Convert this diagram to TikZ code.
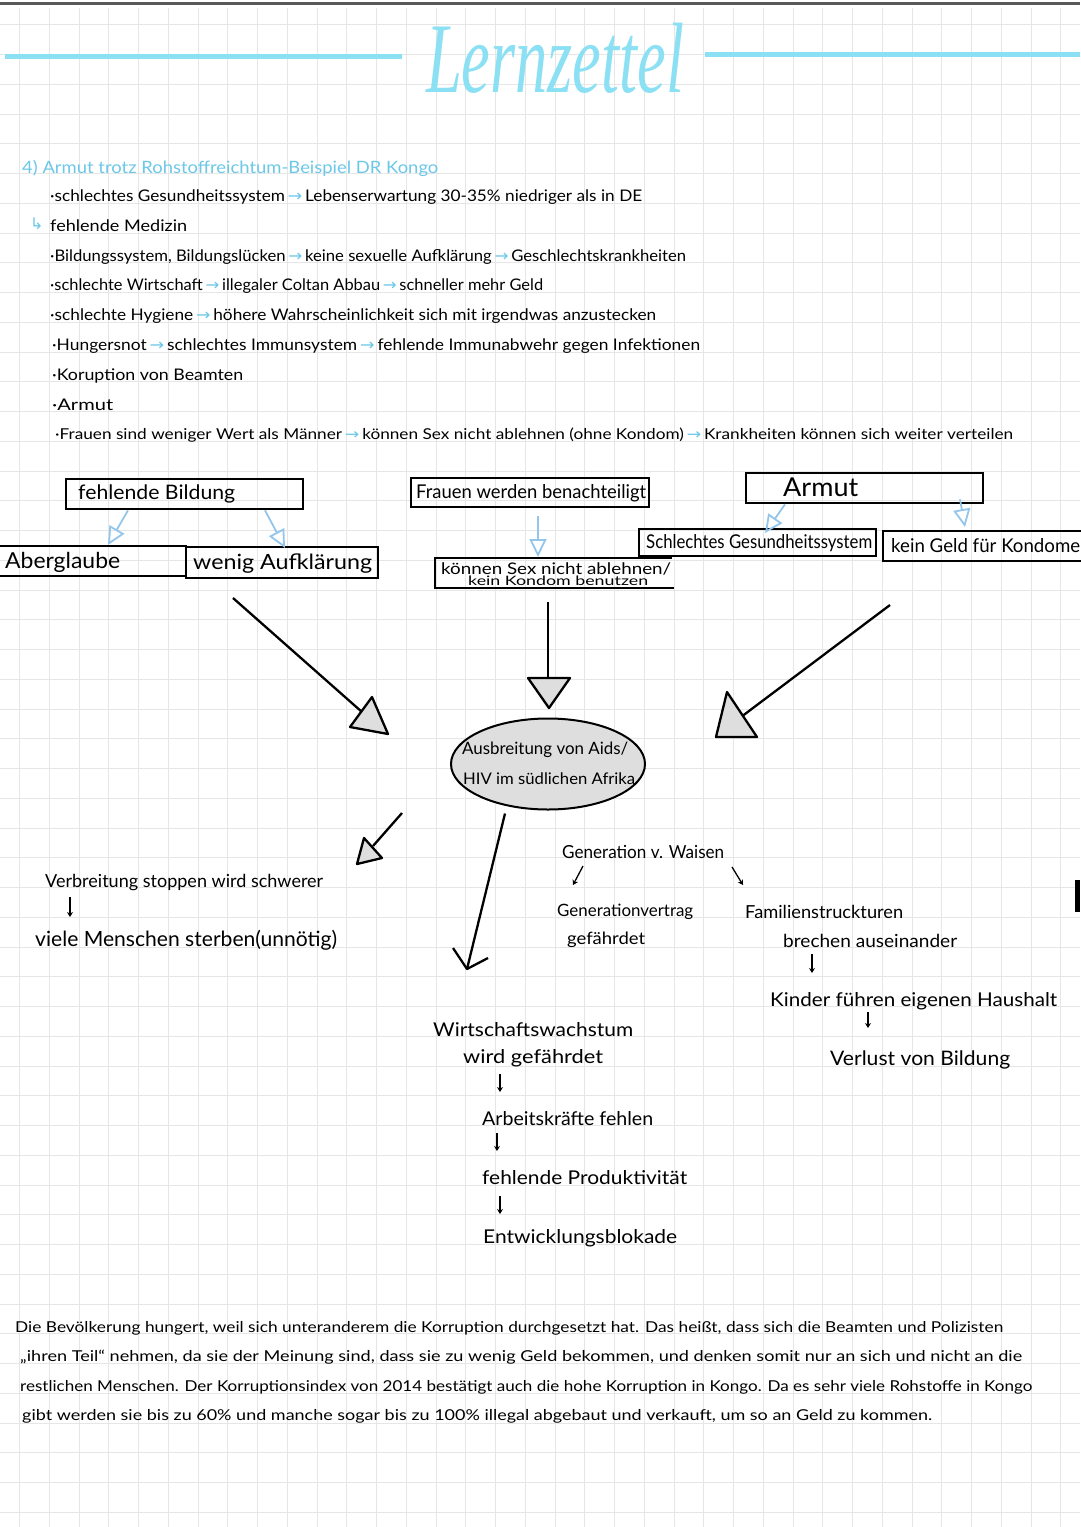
\documentclass[tikz,border=0pt]{standalone}
\usepackage{fontspec}
\usepackage{graphicx}
\setmainfont{Lato}
\newfontfamily\symf{DejaVu Sans}
\newfontfamily\titlef{Liberation Serif}
\usetikzlibrary{arrows.meta,calc,shapes.geometric}
\definecolor{cyanT}{HTML}{8BE0F4}
\definecolor{cyanH}{HTML}{6CC8E8}
\definecolor{blueA}{HTML}{93C6EA}
\definecolor{gridc}{HTML}{E6E6E6}
\definecolor{triF}{HTML}{DEDEDE}
\newcommand\fw[2]{\resizebox{#1pt}{\height}{#2}}
\newcommand\carr{{\symf\color{cyanH}\,→\,}}
\tikzset{
  txt/.style={inner sep=0pt, anchor=west},
  fs/.style={font=\fontsize{#1}{#1}\selectfont},
  boxst/.style={draw, line width=2.3pt, inner sep=0pt, anchor=north west},
  barrow/.style={blueA, line width=1.8pt, -{Triangle[open, length=18pt, width=17pt]}},
  bk/.style={black, line width=2.3pt},
  tri/.style={black, line width=2.3pt, fill=triF, line join=round},
  sarr/.style={black, line width=1.3pt, -{Stealth[length=5pt, width=6pt]}}
}
\begin{document}
\begin{tikzpicture}[x=1pt, y=-1pt]
\useasboundingbox (0,0) rectangle (1080,1527);
\fill[white] (0,0) rectangle (1080,1527);
% grid
\foreach \i in {0,...,36}{\pgfmathsetmacro\gx{19.6+29.75*\i}\draw[gridc, line width=1pt] (\gx,8) -- (\gx,1527);}
\foreach \i in {1,...,51}{\pgfmathsetmacro\gy{-5+29.75*\i}\draw[gridc, line width=1pt] (0,\gy) -- (1080,\gy);}
\draw[black!65, line width=3pt] (0,3) -- (1080,3);
\fill[black] (1075,880) rectangle (1080,912);
% title
\node[inner sep=0pt, text=cyanT, font=\titlef\itshape\fontsize{100}{100}\selectfont] (title) at (555,58) {\fw{258}{Lernzettel}};
\coordinate (tl1) at (5,56); \coordinate (tl2) at (402,56);
\coordinate (tr1) at (705,54); \coordinate (tr2) at (1080,54);
\draw[cyanT, line width=5pt] (tl1) -- (tl2);
\draw[cyanT, line width=5pt] (tr1) -- (tr2);
% heading and bullets
\node[txt, fs=17, text=cyanH] (head) at (22,168) {\fw{416}{4) Armut trotz Rohstoffreichtum-Beispiel DR Kongo}};
\node[txt, fs=16] (b1) at (50,197) {\fw{592}{·schlechtes Gesundheitssystem\carr Lebenserwartung 30-35\% niedriger als in DE}};
\node[txt, fs=16, text=cyanH] (hook) at (30,224) {\symf ↳};
\node[txt, fs=16] (b2) at (50,226) {\fw{137}{fehlende Medizin}};
\node[txt, fs=16] (b3) at (50,257) {\fw{636}{·Bildungssystem, Bildungslücken\carr keine sexuelle Aufklärung\carr Geschlechtskrankheiten}};
\node[txt, fs=16] (b4) at (50,286) {\fw{493}{·schlechte Wirtschaft\carr illegaler Coltan Abbau\carr schneller mehr Geld}};
\node[txt, fs=16] (b5) at (50,316) {\fw{606}{·schlechte Hygiene\carr höhere Wahrscheinlichkeit sich mit irgendwas anzustecken}};
\node[txt, fs=16] (b6) at (52,346) {\fw{648}{·Hungersnot\carr schlechtes Immunsystem\carr fehlende Immunabwehr gegen Infektionen}};
\node[txt, fs=16] (b7) at (52,376) {\fw{191}{·Koruption von Beamten}};
\node[txt, fs=16] (b8) at (52,405) {\fw{61}{·Armut}};
\node[txt, fs=15] (b9) at (55,435) {\fw{958}{·Frauen sind weniger Wert als Männer\carr können Sex nicht ablehnen (ohne Kondom)\carr Krankheiten können sich weiter verteilen}};
% boxes
\node[boxst, minimum width=237pt, minimum height=30pt] (fbox) at (65,478) {};
\node[txt, fs=20] (fbt) at (78,494) {\fw{157}{fehlende Bildung}};
\node[boxst, minimum width=190pt, minimum height=30pt] (aber) at (-5,545) {};
\node[txt, fs=22] (abt) at (5,562) {\fw{115}{Aberglaube}};
\node[boxst, minimum width=192pt, minimum height=31pt] (wenig) at (185,546) {};
\node[txt, fs=21] (wet) at (193,564) {\fw{179}{wenig Aufklärung}};
\node[boxst, minimum width=238pt, minimum height=29pt] (frbox) at (410,477) {};
\node[txt, fs=19] (frt) at (416,493) {\fw{230}{Frauen werden benachteiligt}};
\coordinate (k1) at (672,558); \coordinate (k2) at (435,558); \coordinate (k3) at (435,588); \coordinate (k4) at (674,588);
\draw[bk] (k1) -- (k2) -- (k3) -- (k4);
\node[txt, fs=16] (kt1) at (441,569) {\fw{230}{können Sex nicht ablehnen/}};
\node[txt, fs=13] (kt2) at (468,581) {\fw{180}{kein Kondom benutzen}};
\node[boxst, minimum width=237pt, minimum height=30pt] (armbox) at (745,472) {};
\node[txt, fs=26] (armt) at (783,487) {\fw{75}{Armut}};
\node[boxst, minimum width=237pt, minimum height=27pt] (sgbox) at (638,528) {};
\node[txt, fs=19] (sgt) at (646,543) {\fw{226}{Schlechtes Gesundheitssystem}};
\node[boxst, minimum width=210pt, minimum height=30pt] (kgbox) at (882,530) {};
\node[txt, fs=19] (kgt) at (891,546) {\fw{189}{kein Geld für Kondome}};
% blue arrows
\draw[barrow] ([xshift=63pt]fbox.south west) -- ([xshift=113pt]aber.north west);
\draw[barrow] ([xshift=200pt]fbox.south west) -- ([xshift=100pt,yshift=-2pt]wenig.north west);
\draw[barrow] ([xshift=128pt,yshift=-8pt]frbox.south west) -- (538,557);
\draw[barrow] ([xshift=40pt]armbox.south west) -- ([xshift=127pt,yshift=-5pt]sgbox.north west);
\draw[barrow] ([xshift=215pt,yshift=5pt]armbox.south west) -- ([xshift=83pt,yshift=3pt]kgbox.north west);
% ellipse
\node[ellipse, draw, line width=2pt, fill=triF, minimum width=194pt, minimum height=91pt] (ell) at (548,764) {};
\node[txt, fs=17] (e1) at (462,750) {\fw{166}{Ausbreitung von Aids/}};
\node[txt, fs=16] (e2) at (463,779) {\fw{172}{HIV im südlichen Afrika}};
% big arrows in
\coordinate (s1) at (233,598); \coordinate (m1) at (362,712);
\draw[bk] (s1) -- (m1);
\filldraw[tri] (372,697) -- (350,727) -- (388,734) -- cycle;
\coordinate (s2) at (548,602); \coordinate (m2) at (548,678);
\draw[bk] (s2) -- (m2);
\filldraw[tri] (528,678) -- (570,678) -- (549,708) -- cycle;
\coordinate (s3) at (890,605); \coordinate (m3) at (741,717);
\draw[bk] (s3) -- (m3);
\filldraw[tri] (727,692) -- (716,737) -- (757,737) -- cycle;
% arrows out
\coordinate (o1) at (402,813); \coordinate (m4) at (373,846);
\draw[bk] (o1) -- (m4);
\filldraw[tri] (364,838) -- (357,864) -- (382,858) -- cycle;
\coordinate (vt) at (467,969); \coordinate (v1) at (453,948); \coordinate (v2) at (488,958);
\draw[bk] (ell.south) ++(-43pt,-3pt) -- (vt);
\draw[bk, line join=round] (v1) -- (vt) -- (v2);
% left branch
\node[txt, fs=18] (vs) at (45,882) {\fw{278}{Verbreitung stoppen wird schwerer}};
\node[txt, fs=21] (vm) at (35,940) {\fw{302}{viele Menschen sterben(unnötig)}};
\coordinate (a1s) at (70,897); \coordinate (a1e) at (70,917);
\draw[sarr] (a1s) -- (a1e);
% orphans branch
\node[txt, fs=18] (gw) at (562,852) {\fw{162}{Generation v. Waisen}};
\coordinate (a2s) at (583,866); \coordinate (a2e) at (573,885);
\draw[sarr] (a2s) -- (a2e);
\coordinate (a3s) at (732,867); \coordinate (a3e) at (743,885);
\draw[sarr] (a3s) -- (a3e);
\node[txt, fs=17] (gv) at (557,912) {\fw{136}{Generationvertrag}};
\node[txt, fs=17] (gg) at (567,940) {\fw{78}{gefährdet}};
\node[txt, fs=18] (fst) at (745,912) {\fw{158}{Familienstruckturen}};
\node[txt, fs=18] (ba) at (783,941) {\fw{174}{brechen auseinander}};
\coordinate (a4s) at (812,954); \coordinate (a4e) at (812,973);
\draw[sarr] (a4s) -- (a4e);
\node[txt, fs=19] (kh) at (770,1001) {\fw{287}{Kinder führen eigenen Haushalt}};
\coordinate (a5s) at (868,1012); \coordinate (a5e) at (868,1028);
\draw[sarr] (a5s) -- (a5e);
\node[txt, fs=20] (vb) at (830,1060) {\fw{180}{Verlust von Bildung}};
% economy branch
\node[txt, fs=19] (ww) at (433,1030) {\fw{200}{Wirtschaftswachstum}};
\node[txt, fs=19] (wg) at (463,1058) {\fw{140}{wird gefährdet}};
\coordinate (a6s) at (500,1074); \coordinate (a6e) at (500,1092);
\draw[sarr] (a6s) -- (a6e);
\node[txt, fs=19] (af) at (482,1119) {\fw{171}{Arbeitskräfte fehlen}};
\coordinate (a7s) at (497,1133); \coordinate (a7e) at (497,1151);
\draw[sarr] (a7s) -- (a7e);
\node[txt, fs=19] (fp) at (482,1178) {\fw{205}{fehlende Produktivität}};
\coordinate (a8s) at (500,1196); \coordinate (a8e) at (500,1214);
\draw[sarr] (a8s) -- (a8e);
\node[txt, fs=19] (eb) at (483,1238) {\fw{194}{Entwicklungsblokade}};
% paragraph
\node[txt, fs=15] (p1) at (15,1328) {\fw{988}{Die Bevölkerung hungert, weil sich unteranderem die Korruption durchgesetzt hat. Das heißt, dass sich die Beamten und Polizisten}};
\node[txt, fs=15] (p2) at (20,1357) {\fw{1002}{„ihren Teil“ nehmen, da sie der Meinung sind, dass sie zu wenig Geld bekommen, und denken somit nur an sich und nicht an die}};
\node[txt, fs=15] (p3) at (20,1387) {\fw{1012}{restlichen Menschen. Der Korruptionsindex von 2014 bestätigt auch die hohe Korruption in Kongo. Da es sehr viele Rohstoffe in Kongo}};
\node[txt, fs=15] (p4) at (22,1416) {\fw{910}{gibt werden sie bis zu 60\% und manche sogar bis zu 100\% illegal abgebaut und verkauft, um so an Geld zu kommen.}};
\end{tikzpicture}
\end{document}
